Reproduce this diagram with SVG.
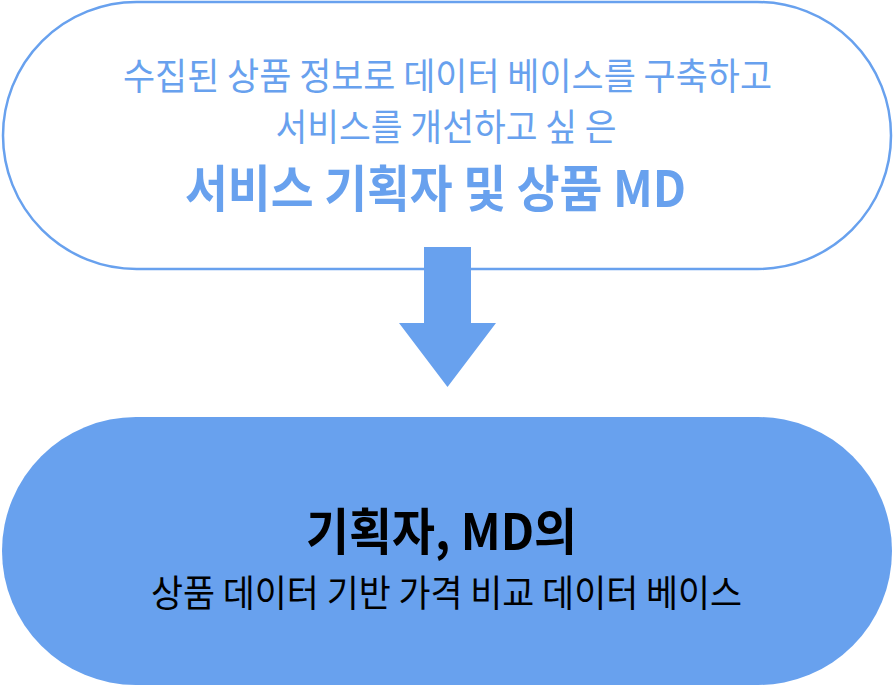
<svg xmlns="http://www.w3.org/2000/svg" width="894" height="686" viewBox="0 0 894 686">
<style>
text{font-family:"Noto Sans CJK KR","Noto Sans",sans-serif;text-anchor:middle}
.blue{fill:#68A1EE}
.reg{font-weight:400}
.bold{font-weight:700}
.blk{fill:#000}
</style>
<rect width="894" height="686" fill="#fff"/>
<g id="node-top">
<rect x="3" y="2" width="888" height="267" rx="133.5" ry="133.5" fill="#fff" stroke="#68A1EE" stroke-width="2.5"/>
<text class="blue reg" x="447.5" y="90" font-size="37" textLength="649" lengthAdjust="spacingAndGlyphs">수집된 상품 정보로 데이터 베이스를 구축하고</text>
<text class="blue reg" x="446" y="141" font-size="37" textLength="341" lengthAdjust="spacingAndGlyphs">서비스를 개선하고 싶 은</text>
<text class="blue bold" x="435.5" y="207" font-size="50" textLength="501" lengthAdjust="spacingAndGlyphs">서비스 기획자 및 상품 MD</text>
</g>
<g id="connectors">
<polygon points="424,247 471,247 471,323 496,323 447.5,387 399,323 424,323" fill="#68A1EE"/>
</g>
<g id="node-bottom">
<rect x="2" y="417" width="890" height="268" rx="134" ry="134" fill="#68A1EE"/>
<text class="blk bold" x="441.5" y="550" font-size="50" textLength="271" lengthAdjust="spacingAndGlyphs">기획자, MD의</text>
<text class="blk reg" x="446.5" y="607" font-size="37" textLength="591" lengthAdjust="spacingAndGlyphs">상품 데이터 기반 가격 비교 데이터 베이스</text>
</g>
</svg>
